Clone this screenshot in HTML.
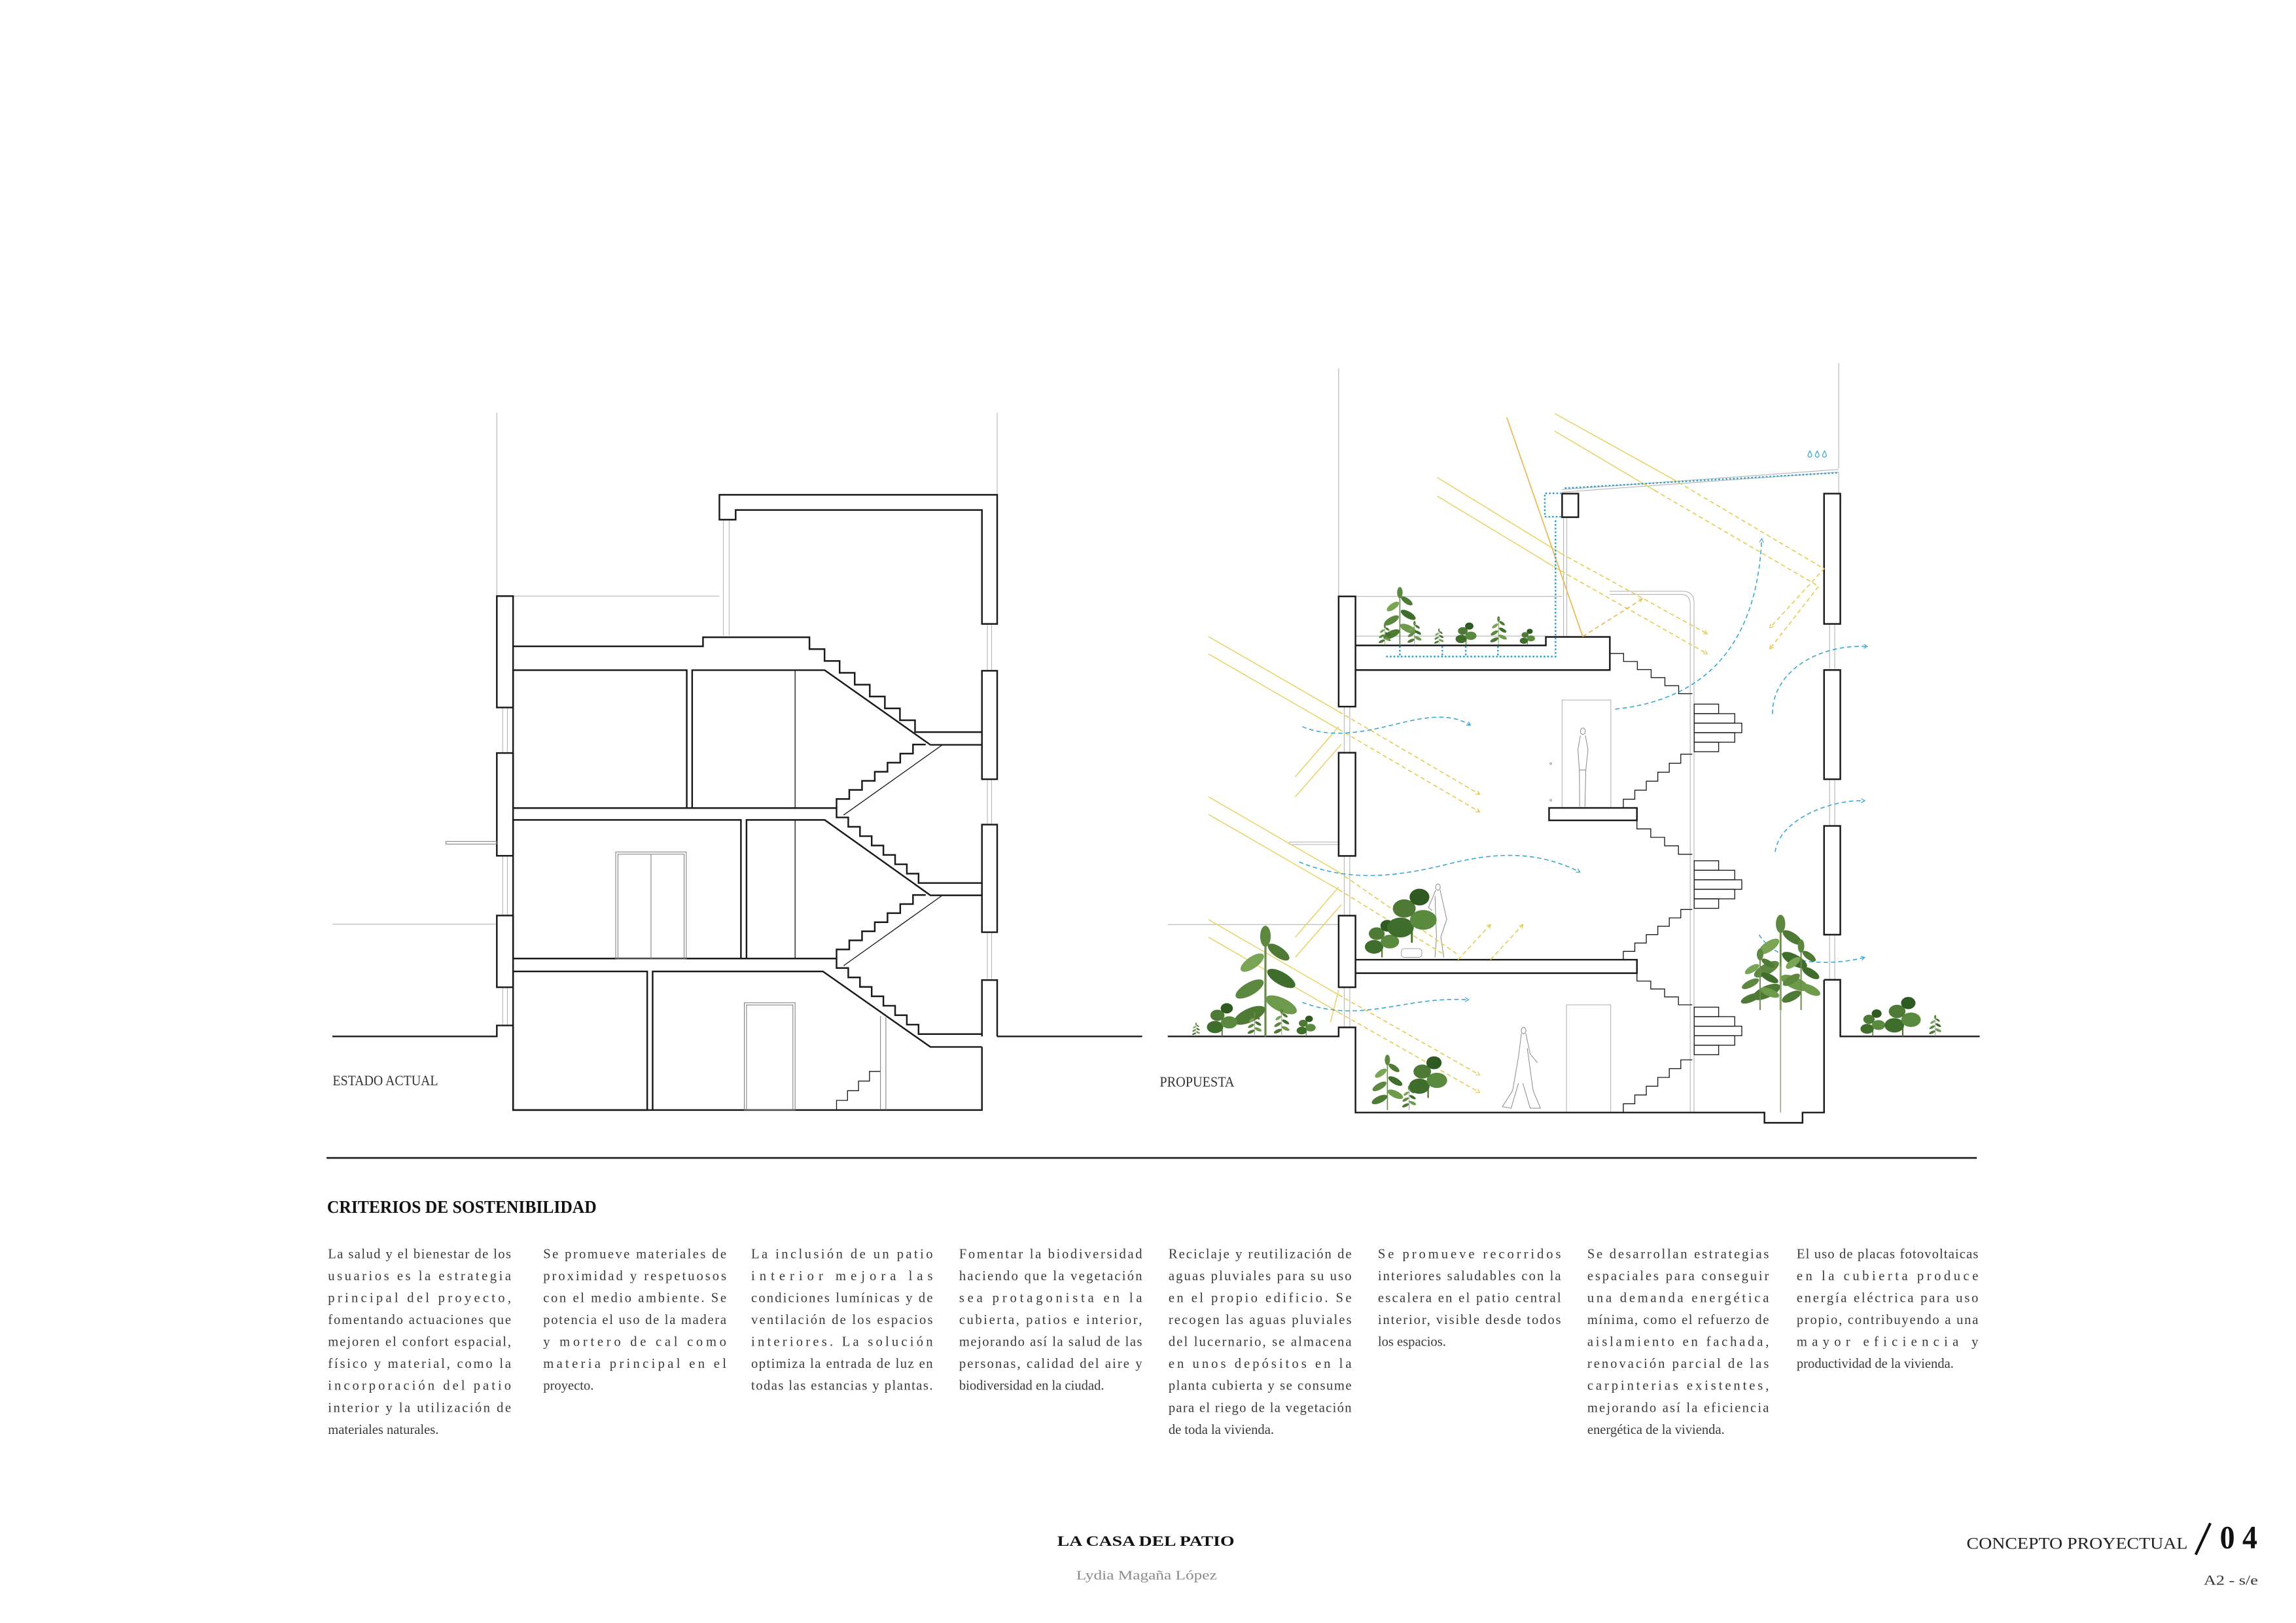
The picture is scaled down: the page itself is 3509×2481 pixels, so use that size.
<!DOCTYPE html>
<html><head><meta charset="utf-8"><style>
html,body{margin:0;padding:0;background:#fff;}
svg{display:block;}
.t{font-family:"Liberation Serif",serif;}
</style></head><body>
<svg width="3509" height="2481" viewBox="0 0 1568 1108.7" preserveAspectRatio="none" xmlns="http://www.w3.org/2000/svg">
<defs>
<marker id="ay" viewBox="0 0 10 10" refX="8" refY="5" markerWidth="5" markerHeight="5" orient="auto"><path d="M1,1 L8,5 L1,9" fill="none" stroke="#e2c84a" stroke-width="1.5"/></marker>
<marker id="ab" viewBox="0 0 10 10" refX="8" refY="5" markerWidth="5" markerHeight="5" orient="auto"><path d="M1,1 L8,5 L1,9" fill="none" stroke="#3aa6d2" stroke-width="1.5"/></marker>
<g id="sh">
<path d="M0,0 V-19" stroke="#6d8a50" stroke-width="0.4" fill="none"/>
<ellipse cx="-3" cy="-4" rx="3.2" ry="1.3" transform="rotate(-25 -3 -4)" fill="#4e7a36"/>
<ellipse cx="3" cy="-6" rx="3.2" ry="1.3" transform="rotate(25 3 -6)" fill="#6e9a4c"/>
<ellipse cx="-3" cy="-9" rx="3" ry="1.2" transform="rotate(-30 -3 -9)" fill="#5c8840"/>
<ellipse cx="3" cy="-11" rx="3" ry="1.2" transform="rotate(30 3 -11)" fill="#3f6d2c"/>
<ellipse cx="-2.5" cy="-14" rx="2.6" ry="1.1" transform="rotate(-35 -2.5 -14)" fill="#7aa456"/>
<ellipse cx="2.5" cy="-16" rx="2.4" ry="1" transform="rotate(35 2.5 -16)" fill="#4e7a36"/>
<ellipse cx="0" cy="-19" rx="1" ry="2" fill="#5c8840"/>
</g>
<g id="bl">
<path d="M0,0 V-12" stroke="#4e6e36" stroke-width="0.5"/>
<ellipse cx="-3" cy="-4" rx="3.5" ry="2.6" fill="#3f6d2c"/>
<ellipse cx="3" cy="-6" rx="3.5" ry="2.6" fill="#5a8a3e"/>
<ellipse cx="-2" cy="-9" rx="3" ry="2.4" fill="#4e7a36"/>
<ellipse cx="2" cy="-12" rx="2.6" ry="2.2" fill="#2f5a22"/>
</g>
</defs>

<!-- ============ LEFT SECTION ============ -->
<g fill="none" stroke="#b5b5b5" stroke-width="0.5">
<path d="M339.3,282 V407 M681,282 V338"/>
<path d="M227,631.3 H339"/>
<path d="M350.4,407.2 H491.3"/>
<path d="M494,355 V434 M498,355 V434"/>
<path d="M343.3,483.3 V514.4 M346.5,483.3 V514.4 M343.3,584.6 V625.4 M346.5,584.6 V625.4 M343.3,674.4 V700.5 M346.5,674.4 V700.5"/>
<path d="M674.3,426.2 V458.2 M677.2,426.2 V458.2 M674.3,532.3 V563.3 M677.2,532.3 V563.3 M674.3,636.8 V669.5 M677.2,636.8 V669.5"/>
</g>
<g fill="none" stroke="#1a1a1a" stroke-width="1.1" stroke-linejoin="miter">
<path d="M491.3,355 V338 H681 V426.2 H670.6 V348.4 H502.4 V355 Z"/>
<rect x="670.6" y="458.2" width="10.4" height="74.1"/>
<rect x="670.6" y="563.3" width="10.4" height="73.5"/>
<path d="M681,708 V669.5 H670.6 V708 M681,708 H780"/>
<rect x="339.3" y="407.2" width="11.1" height="76.1"/>
<rect x="339.3" y="514.4" width="11.1" height="70.2"/>
<rect x="339.3" y="625.4" width="11.1" height="49"/>
<path d="M227,708 H339.3 V700.5 H350.4 V758.3 H670.6 V715.2"/>
<path d="M350.4,441.5 H480.1 V435.3 H552.8 v8.1 h10.3 v8.1 h10.3 v8.1 h10.3 v8.1 h10.3 v8.1 h10.3 v8.1 h10.3 v8.1 h10.3 v8.1 h10.3 H670.6"/>
<rect x="350.4" y="457.8" width="118.6" height="94.2"/>
<path d="M472.7,552 V457.8 H563.2 L635.4,508.8 H670.6"/>
<path d="M571.3,552 v-6.2 h8.7 v-6.2 h8.7 v-6.2 h8.7 v-6.2 h8.7 v-6.2 h8.7 v-6.2 h8.7 v-6.2 h8.7"/>
<path d="M350.4,552 H571.3 v6.4 h8 v6.4 h8 v6.4 h8 v6.4 h8 v6.4 h8 v6.4 h8 v6.4 h8 v6.4 h8 H670.6"/>
<rect x="350.4" y="560.1" width="155.6" height="94.7"/>
<path d="M509.8,654.8 V560.1 H563.2 L635.4,611.6 H670.6"/>
<path d="M571.3,654.8 v-6.2 h8.7 v-6.2 h8.7 v-6.2 h8.7 v-6.2 h8.7 v-6.2 h8.7 v-6.2 h8.7 v-6.2 h8.7"/>
<path d="M350.4,654.8 H571.3 v6.45 h8 v6.45 h8 v6.45 h8 v6.45 h8 v6.45 h8 v6.45 h8 v6.45 h8 v6.45 h8 H670.6"/>
<rect x="350.4" y="663.6" width="91.6" height="94.7"/>
<path d="M445.7,758.3 V663.6 H562 L635.4,715.2 H670.6"/>
</g>
<g fill="none" stroke="#1a1a1a" stroke-width="0.6">
<path d="M576.1,556.8 L643.6,508.8 M576.1,659.7 L643.6,611.6"/>
<path d="M543,457.8 V552 M543,560.1 V654.8"/>
<path d="M571.3,758.3 v-6.6 h7.5 v-6.6 h7.5 v-6.6 h7.5 v-6.6 h7.5"/>
</g>
<g fill="none" stroke="#777" stroke-width="0.45">
<rect x="420.5" y="582" width="48.2" height="73"/><rect x="422" y="583.5" width="45.2" height="71.5"/><path d="M444.6,583.5 V655"/>
<rect x="508.3" y="685" width="34.7" height="73.3"/><rect x="509.8" y="686.5" width="31.7" height="71.8"/>
<path d="M601.3,694 V758.3 M605,694 V758.3"/>
<rect x="304.5" y="574.8" width="34.8" height="1.8"/>
</g>

<!-- ============ RIGHT SECTION ============ -->
<g fill="none" stroke="#b5b5b5" stroke-width="0.5">
<path d="M914.2,251.6 V407.4 M1255.7,248 V320"/>
<path d="M797.5,631.6 H914"/>
<path d="M925.7,407.4 H1066.8 M925.7,434.5 H1055.7"/>
<path d="M1067.8,353.3 V435 M1070,353.3 V435"/>
<path d="M1066.8,334.4 L1255.7,320.7 M1066.8,336.2 L1255.7,322.5 M1255.7,322.5 V337"/>
<path d="M918,482.7 V514.2 M921.8,482.7 V514.2 M918,584.7 V625.5 M921.8,584.7 V625.5 M918,674.4 V701.8 M921.8,674.4 V701.8"/>
<path d="M1249.5,426.2 V457.7 M1253,426.2 V457.7 M1249.5,532.3 V564.2 M1253,532.3 V564.2 M1249.5,638.5 V669.3 M1253,638.5 V669.3"/>
<path d="M1154.3,474 V760 M1156.9,474 V760"/>
<path d="M1099.4,403.9 H1149 Q1156.9,403.9 1156.9,412 V474 M1099.4,406 H1148 Q1154.3,406 1154.3,413 V474"/>
<rect x="1066.8" y="478.2" width="33.3" height="73.7"/>
<rect x="1069.8" y="686.4" width="30.2" height="73.6"/>
<rect x="880.8" y="575.2" width="33.4" height="1.7"/>
</g>
<g fill="none" stroke="#1a1a1a" stroke-width="1.1">
<rect x="914.2" y="407.4" width="11.5" height="75.3"/>
<rect x="914.2" y="514.2" width="11.5" height="70.5"/>
<rect x="914.2" y="625.5" width="11.5" height="48.9"/>
<path d="M797.5,708 H914.2 V701.8 H925.7 V760 H1205 V767 H1231 V760 H1245.7 V669.3"/>
<path d="M1245.7,669.3 H1256.8 V708 H1352"/>
<rect x="1245.7" y="337.2" width="11.1" height="89"/>
<rect x="1245.7" y="457.7" width="11.1" height="74.6"/>
<rect x="1245.7" y="564.2" width="11.1" height="74.3"/>
<rect x="1066.8" y="337.2" width="11.1" height="16.1"/>
<path d="M925.7,440.9 H1055.7 V435.1 H1099.4 V457.7 H925.7"/>
<rect x="1057.9" y="551.9" width="60" height="8.5"/>
<path d="M925.7,655.6 H1117.9 V664.8 H925.7"/>
</g>
<g fill="none" stroke="#1a1a1a" stroke-width="0.6">
<path d="M1099.4,440.9 v5.5 h9.4 v5.5 h9.4 v5.5 h9.4 v5.5 h9.4 v5.5 h9.4 v5.5 h9.4"/>
<path d="M1155.7,515.2 h-7.85 v6.15 h-7.85 v6.15 h-7.85 v6.15 h-7.85 v6.15 h-7.85 v6.15 h-7.85 v6.15"/>
<path d="M1117.9,560.4 v5.8 h9.45 v5.8 h9.45 v5.8 h9.45 v5.8 h9.45"/>
<path d="M1155.7,621.3 h-7.85 v5.72 h-7.85 v5.72 h-7.85 v5.72 h-7.85 v5.72 h-7.85 v5.72 h-7.85 v5.72"/>
<path d="M1117.9,664.8 v5.4 h9.45 v5.4 h9.45 v5.4 h9.45 v5.4 h9.45"/>
<path d="M1155.7,724 h-7.85 v6 h-7.85 v6 h-7.85 v6 h-7.85 v6 h-7.85 v6 h-7.85 v6"/>
<g id="tr">
<rect x="1157" y="481" width="16.7" height="6.5"/><rect x="1157" y="487.5" width="27.7" height="6.5"/><rect x="1157" y="494" width="32.5" height="6.5"/><rect x="1157" y="500.5" width="27.7" height="6.5"/><rect x="1157" y="507" width="16.7" height="6.5"/>
</g>
<use href="#tr" y="107"/>
<use href="#tr" y="207"/>
</g>

<!-- figures -->
<g fill="none" stroke="#8a8a8a" stroke-width="0.45">
<ellipse cx="1081" cy="499.5" rx="1.7" ry="2.2"/>
<path d="M1079.3,502.5 L1077.6,512 L1078.6,526 L1078.8,551 M1082.7,502.5 L1084.5,512 L1083,526 L1082.4,551 M1078.6,526 H1083"/>
<ellipse cx="982" cy="606" rx="1.6" ry="2.1"/>
<path d="M980.5,608 L975.5,620 M983.5,608 L988,628 L984,640 L986,654 M980,612 L981,640 L980,654 M975.5,620 L978,622"/>
<ellipse cx="1040.5" cy="704" rx="1.6" ry="2.2"/>
<path d="M1039,706 L1037,722 L1033,745 L1026,756 L1032,757 L1037,740 M1042,706 L1045,720 L1050,726 M1043,716 L1047,745 L1052,757 L1045,757 L1040,740"/>
<path d="M1059,521 a0.6,0.6 0 1,0 0.1,0 M1059,546 a0.6,0.6 0 1,0 0.1,0"/>
</g>

<!-- sun lines -->
<g fill="none" stroke="#ead673" stroke-width="0.75">
<path d="M1061.6,282.4 L1142,327 M1061.6,294.4 L1130,335"/>
<path d="M981.6,326.2 L1066,378 M981.6,338.9 L1066,390"/>
<path d="M825.3,434.8 L914.2,486.1 M825.3,446.7 L914.2,498.1"/>
<path d="M914.2,496.4 L884.6,530.6 M916,508.4 L884.6,544.3"/>
<path d="M825.3,544.3 L914.2,595.7 M825.3,556.3 L914.2,607.7"/>
<path d="M914.2,606 L884.6,640.2 M916,618 L884.6,653.9"/>
<path d="M825.3,628.2 L914.2,679.6 M825.3,640.2 L914.2,691.6"/>
<path d="M914.2,676.2 L908.6,698.4"/>
</g>
<g fill="none" stroke="#e4cc4a" stroke-width="0.7" stroke-dasharray="3 2">
<path d="M1142,327 L1245.7,388.5 L1208.6,428.9" marker-end="url(#ay)"/>
<path d="M1130,335 L1242,400.5 L1208.6,443.3" marker-end="url(#ay)"/>
<path d="M1066,378 L1166,433" marker-end="url(#ay)"/>
<path d="M1066,390 L1166,446.7" marker-end="url(#ay)"/>
<path d="M914.2,486.1 L1010.5,542.6" marker-end="url(#ay)"/>
<path d="M914.2,498.1 L1010.5,554.6" marker-end="url(#ay)"/>
<path d="M914.2,595.7 L995.7,652.2"/>
<path d="M914.2,607.7 L986.4,652.2"/>
<path d="M995.7,655.6 L1017.9,631.6" marker-end="url(#ay)"/>
<path d="M1017.9,655.6 L1040.1,631.6" marker-end="url(#ay)"/>
<path d="M914.2,679.6 L1010.5,734.3" marker-end="url(#ay)"/>
<path d="M914.2,691.6 L1010.5,746.3" marker-end="url(#ay)"/>
</g>
<path d="M1029,285.1 L1080.9,434.8" fill="none" stroke="#e8b850" stroke-width="0.75"/>
<path d="M1080.9,434.8 L1121.6,409.1" fill="none" stroke="#e8b850" stroke-width="0.7" stroke-dasharray="3 2" marker-end="url(#ay)"/>

<!-- air -->
<g fill="none" stroke="#3aa6d2" stroke-width="0.7" stroke-dasharray="3 2" marker-end="url(#ab)">
<path d="M889.4,496.4 C915,507 945,496 965,492 S995,490 1004.2,495.4"/>
<path d="M887.2,588.8 C920,602 950,600 990,590 S1055,584 1079,595.7"/>
<path d="M889.4,684.7 C930,700 960,680 1003,683"/>
<path d="M1103.1,484.4 C1165,478 1200,440 1203.1,368"/>
<path d="M1210.5,487.8 C1210,460 1240,440 1275.3,441.6"/>
<path d="M1212.3,582 C1215,560 1250,546 1273.5,547"/>
<path d="M1201.3,638.5 C1215,660 1250,660 1273.5,654"/>
</g>
<!-- rain -->
<g fill="none" stroke="#2ea0cf" stroke-width="1.2" stroke-linecap="round" stroke-dasharray="0.1 2.4">
<path d="M1254,323 L1068,333.5 M1066,337 H1055 V353 H1066 M1062.3,356 V448.5 H945.7"/>
<path d="M956,442 V448 M1001,442 V448 M1023,442 V448 M985,442 V448"/>
</g>
<g fill="none" stroke="#2ea0cf" stroke-width="0.5">
<path d="M1236,308 l-1.2,2.5 a1.3,1.3 0 1,0 2.4,0 z M1241,308 l-1.2,2.5 a1.3,1.3 0 1,0 2.4,0 z M1246,308 l-1.2,2.5 a1.3,1.3 0 1,0 2.4,0 z"/>
</g>

<!-- plants -->
<use href="#sh" transform="translate(956,440.9) scale(1.9)"/>
<use href="#sh" transform="translate(945.7,440.9) scale(0.7)"/>
<use href="#sh" transform="translate(966,440.9) scale(0.8)"/>
<use href="#sh" transform="translate(982.7,440.9) scale(0.55)"/>
<use href="#bl" transform="translate(1001.2,440.9) scale(1.1)"/>
<use href="#sh" transform="translate(1023.4,440.9) scale(0.95)"/>
<use href="#bl" transform="translate(1043.1,440.9) scale(0.8)"/>
<use href="#bl" transform="translate(943.8,654) scale(1.8)"/>
<use href="#bl" transform="translate(964.2,644) scale(2.6)"/>
<rect x="957" y="648" width="14" height="6" rx="2" fill="none" stroke="#999" stroke-width="0.4"/>
<use href="#sh" transform="translate(947.5,758.3) scale(1.8)"/>
<use href="#sh" transform="translate(962.3,758.3) scale(0.8)"/>
<use href="#bl" transform="translate(975.3,750) scale(2)"/>
<use href="#sh" transform="translate(864.2,708) scale(3.6,3.6)"/>
<use href="#bl" transform="translate(834.6,708) scale(1.6)"/>
<use href="#sh" transform="translate(816.8,708) scale(0.45)"/>
<use href="#sh" transform="translate(856.8,708) scale(0.8)"/>
<use href="#sh" transform="translate(875.3,708) scale(0.9)"/>
<use href="#bl" transform="translate(892,708) scale(1)"/>
<use href="#sh" transform="translate(1216,690) scale(3.2,3.1)"/>
<use href="#sh" transform="translate(1202,690) scale(2.2,2)"/>
<use href="#sh" transform="translate(1230,690) scale(2.2,2.3)"/>
<path d="M1216,660 V760" stroke="#9aa67a" stroke-width="0.7"/>
<use href="#bl" transform="translate(1279,708) scale(1.3)"/>
<use href="#bl" transform="translate(1299.4,708) scale(1.9)"/>
<use href="#sh" transform="translate(1321.6,708) scale(0.7)"/>

<!-- labels -->
<g class="t" fill="#333">
<text x="227.2" y="741.4" font-size="10" textLength="72" lengthAdjust="spacingAndGlyphs">ESTADO ACTUAL</text>
<text x="792" y="742.2" font-size="10" textLength="51" lengthAdjust="spacingAndGlyphs">PROPUESTA</text>
</g>

<path d="M223,791 H1350" stroke="#1a1a1a" stroke-width="1.2"/>

<text class="t" x="223.4" y="828.6" font-size="12.5" font-weight="bold" fill="#111" textLength="184" lengthAdjust="spacingAndGlyphs">CRITERIOS DE SOSTENIBILIDAD</text>

<g class="t" font-size="9.2" fill="#3a3a3a">
<g transform="translate(224,0)">
<text y="859.5" textLength="125" lengthAdjust="spacing">La salud y el bienestar de los</text>
<text y="874.5" textLength="125" lengthAdjust="spacing">usuarios es la estrategia</text>
<text y="889.5" textLength="125" lengthAdjust="spacing">principal del proyecto,</text>
<text y="904.5" textLength="125" lengthAdjust="spacing">fomentando actuaciones que</text>
<text y="919.5" textLength="125" lengthAdjust="spacing">mejoren el confort espacial,</text>
<text y="934.5" textLength="125" lengthAdjust="spacing">físico y material, como la</text>
<text y="949.5" textLength="125" lengthAdjust="spacing">incorporación del patio</text>
<text y="964.5" textLength="125" lengthAdjust="spacing">interior y la utilización de</text>
<text y="979.5">materiales naturales.</text>
</g>
<g transform="translate(371,0)">
<text y="859.5" textLength="125" lengthAdjust="spacing">Se promueve materiales de</text>
<text y="874.5" textLength="125" lengthAdjust="spacing">proximidad y respetuosos</text>
<text y="889.5" textLength="125" lengthAdjust="spacing">con el medio ambiente. Se</text>
<text y="904.5" textLength="125" lengthAdjust="spacing">potencia el uso de la madera</text>
<text y="919.5" textLength="125" lengthAdjust="spacing">y mortero de cal como</text>
<text y="934.5" textLength="125" lengthAdjust="spacing">materia principal en el</text>
<text y="949.5">proyecto.</text>
</g>
<g transform="translate(513,0)">
<text y="859.5" textLength="124" lengthAdjust="spacing">La inclusión de un patio</text>
<text y="874.5" textLength="124" lengthAdjust="spacing">interior mejora las</text>
<text y="889.5" textLength="124" lengthAdjust="spacing">condiciones lumínicas y de</text>
<text y="904.5" textLength="124" lengthAdjust="spacing">ventilación de los espacios</text>
<text y="919.5" textLength="124" lengthAdjust="spacing">interiores. La solución</text>
<text y="934.5" textLength="124" lengthAdjust="spacing">optimiza la entrada de luz en</text>
<text y="949.5" textLength="124" lengthAdjust="spacing">todas las estancias y plantas.</text>
</g>
<g transform="translate(655,0)">
<text y="859.5" textLength="125" lengthAdjust="spacing">Fomentar la biodiversidad</text>
<text y="874.5" textLength="125" lengthAdjust="spacing">haciendo que la vegetación</text>
<text y="889.5" textLength="125" lengthAdjust="spacing">sea protagonista en la</text>
<text y="904.5" textLength="125" lengthAdjust="spacing">cubierta, patios e interior,</text>
<text y="919.5" textLength="125" lengthAdjust="spacing">mejorando así la salud de las</text>
<text y="934.5" textLength="125" lengthAdjust="spacing">personas, calidad del aire y</text>
<text y="949.5">biodiversidad en la ciudad.</text>
</g>
<g transform="translate(798,0)">
<text y="859.5" textLength="125" lengthAdjust="spacing">Reciclaje y reutilización de</text>
<text y="874.5" textLength="125" lengthAdjust="spacing">aguas pluviales para su uso</text>
<text y="889.5" textLength="125" lengthAdjust="spacing">en el propio edificio. Se</text>
<text y="904.5" textLength="125" lengthAdjust="spacing">recogen las aguas pluviales</text>
<text y="919.5" textLength="125" lengthAdjust="spacing">del lucernario, se almacena</text>
<text y="934.5" textLength="125" lengthAdjust="spacing">en unos depósitos en la</text>
<text y="949.5" textLength="125" lengthAdjust="spacing">planta cubierta y se consume</text>
<text y="964.5" textLength="125" lengthAdjust="spacing">para el riego de la vegetación</text>
<text y="979.5">de toda la vivienda.</text>
</g>
<g transform="translate(941,0)">
<text y="859.5" textLength="125" lengthAdjust="spacing">Se promueve recorridos</text>
<text y="874.5" textLength="125" lengthAdjust="spacing">interiores saludables con la</text>
<text y="889.5" textLength="125" lengthAdjust="spacing">escalera en el patio central</text>
<text y="904.5" textLength="125" lengthAdjust="spacing">interior, visible desde todos</text>
<text y="919.5">los espacios.</text>
</g>
<g transform="translate(1084,0)">
<text y="859.5" textLength="124" lengthAdjust="spacing">Se desarrollan estrategias</text>
<text y="874.5" textLength="124" lengthAdjust="spacing">espaciales para conseguir</text>
<text y="889.5" textLength="124" lengthAdjust="spacing">una demanda energética</text>
<text y="904.5" textLength="124" lengthAdjust="spacing">mínima, como el refuerzo de</text>
<text y="919.5" textLength="124" lengthAdjust="spacing">aislamiento en fachada,</text>
<text y="934.5" textLength="124" lengthAdjust="spacing">renovación parcial de las</text>
<text y="949.5" textLength="124" lengthAdjust="spacing">carpinterias existentes,</text>
<text y="964.5" textLength="124" lengthAdjust="spacing">mejorando así la eficiencia</text>
<text y="979.5">energética de la vivienda.</text>
</g>
<g transform="translate(1227,0)">
<text y="859.5" textLength="124" lengthAdjust="spacing">El uso de placas fotovoltaicas</text>
<text y="874.5" textLength="124" lengthAdjust="spacing">en la cubierta produce</text>
<text y="889.5" textLength="124" lengthAdjust="spacing">energía eléctrica para uso</text>
<text y="904.5" textLength="124" lengthAdjust="spacing">propio, contribuyendo a una</text>
<text y="919.5" textLength="124" lengthAdjust="spacing">mayor eficiencia y</text>
<text y="934.5">productividad de la vivienda.</text>
</g>
</g>

<!-- footer -->
<g class="t">
<text x="722" y="1056" font-size="10" font-weight="bold" fill="#111" textLength="121" lengthAdjust="spacingAndGlyphs">LA CASA DEL PATIO</text>
<text x="735" y="1079" font-size="9" fill="#8a8a8a" textLength="96" lengthAdjust="spacingAndGlyphs">Lydia Magaña López</text>
<text x="1343" y="1058" font-size="11.5" fill="#222" textLength="151" lengthAdjust="spacingAndGlyphs">CONCEPTO PROYECTUAL</text>
<path d="M1499.5,1062 L1509.5,1040.5" stroke="#111" stroke-width="1.8"/>
<text x="1516" y="1057.6" font-size="22" font-weight="bold" fill="#111" textLength="25.6" lengthAdjust="spacingAndGlyphs">0 4</text>
<text x="1505" y="1082.5" font-size="9.5" fill="#333" textLength="37" lengthAdjust="spacingAndGlyphs">A2 - s/e</text>
</g>
</svg>
</body></html>
